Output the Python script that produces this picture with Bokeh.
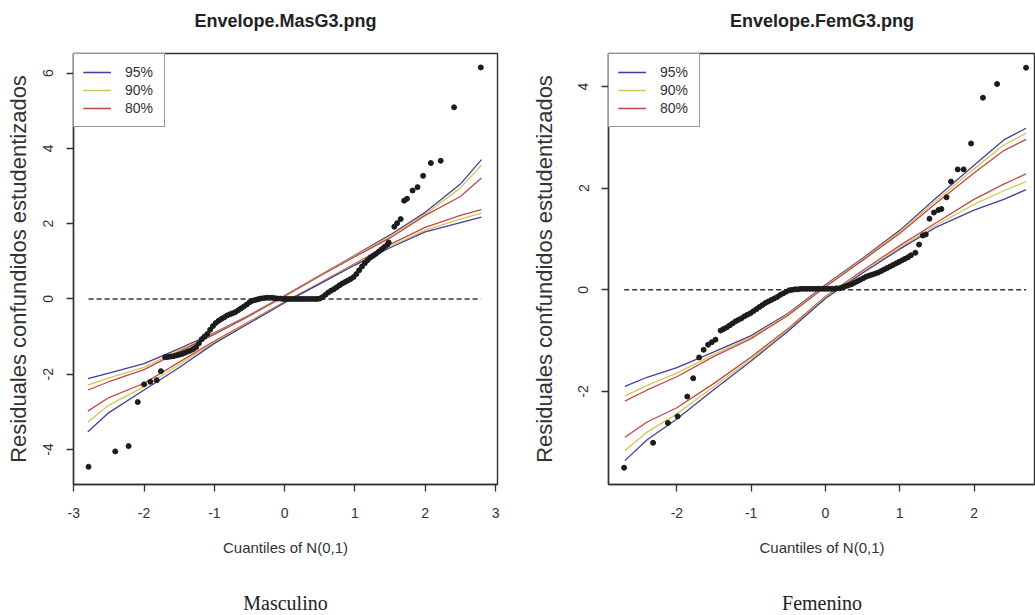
from bokeh.plotting import figure
from bokeh.layouts import row
from bokeh.models import (Range1d, FixedTicker, Legend, LegendItem, Title,
                          PrintfTickFormatter)
from bokeh.embed import file_html
from bokeh.resources import INLINE

# ---------------- data: Masculino ----------------
mas_px = [-2.79, -2.41, -2.22, -2.09, -2.00, -1.91, -1.82, -1.76,
          -1.70, -1.66, -1.62, -1.58, -1.54, -1.50, -1.46, -1.42, -1.38, -1.34, -1.30, -1.26,
          -1.22, -1.18, -1.14, -1.10, -1.06, -1.02, -0.98, -0.94, -0.90, -0.86, -0.82, -0.78,
          -0.74, -0.70, -0.66, -0.62, -0.58, -0.54, -0.50, -0.46, -0.42, -0.38, -0.34, -0.30,
          -0.26, -0.22, -0.18, -0.14, -0.10, -0.06, -0.02, 0.02, 0.06, 0.10, 0.14, 0.18, 0.22,
          0.26, 0.30, 0.34, 0.38, 0.42, 0.46, 0.50, 0.54, 0.58, 0.62, 0.66, 0.70, 0.74, 0.78,
          0.82, 0.86, 0.90, 0.94, 0.98, 1.02, 1.06, 1.10, 1.14, 1.18, 1.22, 1.26, 1.30, 1.34,
          1.38, 1.42, 1.46, 1.48,
          1.56, 1.60, 1.65, 1.70, 1.74, 1.82, 1.89, 1.97, 2.08, 2.22, 2.41, 2.79]
mas_py = [-4.46, -4.05, -3.91, -2.74, -2.27, -2.20, -2.16, -1.92,
          -1.55, -1.54, -1.53, -1.52, -1.50, -1.48, -1.46, -1.43, -1.40, -1.37, -1.33, -1.28,
          -1.18, -1.07, -1.00, -0.93, -0.82, -0.72, -0.64, -0.58, -0.53, -0.49, -0.44, -0.41,
          -0.38, -0.35, -0.30, -0.25, -0.20, -0.15, -0.09, -0.05, -0.03, -0.01, 0.01, 0.02,
          0.03, 0.03, 0.03, 0.02, 0.01, 0.01, 0.00, 0.00, 0.00, 0.00, 0.00, 0.00, 0.00,
          0.00, 0.00, 0.00, 0.00, 0.00, 0.00, 0.01, 0.05, 0.11, 0.17, 0.22, 0.26, 0.31, 0.36,
          0.41, 0.45, 0.49, 0.53, 0.58, 0.66, 0.76, 0.86, 0.95, 1.03, 1.10, 1.15, 1.20, 1.26,
          1.32, 1.38, 1.44, 1.50,
          1.92, 2.01, 2.12, 2.61, 2.66, 2.88, 2.97, 3.27, 3.61, 3.67, 5.09, 6.15]

mas_ex = [-2.8, -2.5, -2.0, -1.5, -1.0, -0.5, 0.0, 0.5, 1.0, 1.5, 2.0, 2.5, 2.8]
mas_up95 = [-2.12, -1.97, -1.72, -1.32, -0.90, -0.43, 0.09, 0.63, 1.16, 1.70, 2.30, 3.05, 3.70]
mas_up90 = [-2.29, -2.10, -1.82, -1.36, -0.92, -0.44, 0.08, 0.62, 1.14, 1.66, 2.25, 2.95, 3.55]
mas_up80 = [-2.42, -2.20, -1.88, -1.40, -0.94, -0.45, 0.07, 0.61, 1.12, 1.62, 2.22, 2.72, 3.21]
mas_lo80 = [-2.98, -2.62, -2.24, -1.68, -1.12, -0.60, -0.08, 0.42, 0.94, 1.45, 1.90, 2.22, 2.37]
mas_lo90 = [-3.27, -2.82, -2.33, -1.75, -1.15, -0.62, -0.09, 0.41, 0.92, 1.40, 1.83, 2.12, 2.28]
mas_lo95 = [-3.53, -3.02, -2.42, -1.82, -1.18, -0.64, -0.10, 0.40, 0.90, 1.36, 1.78, 2.03, 2.17]

# ---------------- data: Femenino ----------------
fem_px = [-2.71, -2.32, -2.12, -1.99, -1.86, -1.78, -1.70, -1.64, -1.58, -1.53, -1.48,
          -1.41, -1.37, -1.33, -1.29, -1.25, -1.21, -1.17, -1.13, -1.09, -1.05, -1.01, -0.97,
          -0.93, -0.89, -0.85, -0.81, -0.77, -0.73, -0.69, -0.65, -0.61, -0.57, -0.53, -0.49,
          -0.45, -0.41, -0.37, -0.33, -0.29, -0.25, -0.21, -0.17, -0.13, -0.09, -0.05, -0.01,
          0.03, 0.07, 0.11, 0.15, 0.19, 0.23, 0.27, 0.31, 0.35, 0.39, 0.43, 0.47, 0.51, 0.55,
          0.59, 0.63, 0.67, 0.71, 0.75, 0.79, 0.83, 0.87, 0.91, 0.95, 0.99, 1.03, 1.07, 1.11,
          1.15,
          1.21, 1.26, 1.31, 1.35, 1.40, 1.46, 1.52, 1.56, 1.63, 1.69, 1.78, 1.86, 1.96, 2.12,
          2.31, 2.70]
fem_py = [-3.50, -3.01, -2.62, -2.49, -2.10, -1.74, -1.33, -1.18, -1.08, -1.03, -0.98,
          -0.80, -0.77, -0.74, -0.70, -0.66, -0.62, -0.59, -0.56, -0.52, -0.49, -0.46, -0.42,
          -0.38, -0.34, -0.30, -0.26, -0.23, -0.20, -0.17, -0.14, -0.10, -0.07, -0.04, -0.01,
          0.00, 0.01, 0.01, 0.02, 0.02, 0.02, 0.02, 0.02, 0.02, 0.02, 0.02, 0.02,
          0.02, 0.02, 0.02, 0.03, 0.03, 0.05, 0.07, 0.09, 0.11, 0.14, 0.17, 0.20, 0.23, 0.26,
          0.28, 0.30, 0.32, 0.34, 0.37, 0.40, 0.43, 0.46, 0.49, 0.52, 0.55, 0.58, 0.61, 0.64,
          0.68,
          0.73, 0.89, 1.07, 1.09, 1.40, 1.52, 1.57, 1.59, 1.82, 2.13, 2.37, 2.37, 2.88, 3.78,
          4.05, 4.37]

fem_ex = [-2.7, -2.4, -2.0, -1.5, -1.0, -0.5, 0.0, 0.5, 1.0, 1.5, 2.0, 2.4, 2.7]
fem_up95 = [-1.90, -1.72, -1.53, -1.22, -0.90, -0.46, 0.10, 0.62, 1.17, 1.82, 2.45, 2.95, 3.18]
fem_up90 = [-2.09, -1.88, -1.64, -1.27, -0.93, -0.48, 0.08, 0.60, 1.14, 1.77, 2.38, 2.85, 3.08]
fem_up80 = [-2.19, -1.97, -1.71, -1.31, -0.96, -0.50, 0.06, 0.58, 1.11, 1.72, 2.30, 2.74, 2.96]
fem_lo80 = [-2.90, -2.60, -2.32, -1.84, -1.32, -0.76, -0.13, 0.38, 0.87, 1.33, 1.78, 2.08, 2.28]
fem_lo90 = [-3.16, -2.80, -2.44, -1.90, -1.36, -0.79, -0.15, 0.35, 0.83, 1.28, 1.68, 1.95, 2.13]
fem_lo95 = [-3.36, -2.95, -2.54, -1.96, -1.40, -0.81, -0.17, 0.33, 0.80, 1.24, 1.57, 1.78, 1.97]

legend_labels = ["95%", "90%", "80%"]
col_blue, col_yellow, col_red = "#453d9e", "#d4c656", "#c04a45"

x_label = "Cuantiles of N(0,1)"
y_label = "Residuales confundidos estudentizados"

SANS = "Liberation Sans"
FRAME_TOP, FRAME_BOTTOM, HEIGHT = 53, 484, 615


def spacer(gap):
    # blank title (zero-width character, white) used only to reserve vertical space
    return Title(text="\u200b", text_font_size="2px", standoff=gap, text_color="white")


def panel(title, subtitle, px, py, ex, envs, xr, yr, xticks, yticks, width,
          border_left, border_right, ylab_standoff):
    p = figure(width=width, height=HEIGHT, x_range=Range1d(*xr), y_range=Range1d(*yr),
               output_backend="svg", toolbar_location=None, title=None,
               min_border_left=border_left, min_border_right=border_right,
               min_border_top=FRAME_TOP, min_border_bottom=HEIGHT - FRAME_BOTTOM)
    p.xgrid.visible = False
    p.ygrid.visible = False
    p.outline_line_color = "#333333"
    p.outline_line_width = 1.4
    p.background_fill_color = "white"
    p.border_fill_color = "white"

    for ax, ticks in ((p.xaxis[0], xticks), (p.yaxis[0], yticks)):
        ax.ticker = FixedTicker(ticks=ticks)
        ax.formatter = PrintfTickFormatter(format="%d")
        ax.minor_tick_line_color = None
        ax.major_tick_in = 0
        ax.major_tick_out = 7
        ax.major_tick_line_color = "#333333"
        ax.major_tick_line_width = 1.3
        ax.axis_line_color = "#333333"
        ax.axis_line_width = 1.4
        ax.major_label_text_font = SANS
        ax.major_label_text_font_size = "14px"
        ax.major_label_text_color = "#333333"
        ax.axis_label_text_font = SANS
        ax.axis_label_text_font_style = "normal"
        ax.axis_label_text_color = "#333333"
    p.xaxis[0].axis_label = x_label
    p.xaxis[0].axis_label_text_font_size = "15px"
    p.xaxis[0].major_label_standoff = 16
    p.xaxis[0].axis_label_standoff = 18
    p.yaxis[0].axis_label = y_label
    p.yaxis[0].axis_label_text_font_size = "22px"
    p.yaxis[0].major_label_orientation = "vertical"
    p.yaxis[0].major_label_standoff = 13
    p.yaxis[0].axis_label_standoff = ylab_standoff

    # zero reference line spanning the data
    p.line([min(px), max(px)], [0, 0], line_color="#333333", line_width=1.5,
           line_dash="5 3")

    colors = [col_blue, col_yellow, col_red, col_red, col_yellow, col_blue]
    rends = []
    for ys, c in zip(envs, colors):
        rends.append(p.line(ex, ys, line_color=c, line_width=1.3))

    p.scatter(px, py, size=5, color="#1c1c1c", line_color="#1c1c1c")

    items = [LegendItem(label=legend_labels[0], renderers=[rends[0], rends[5]]),
             LegendItem(label=legend_labels[1], renderers=[rends[1], rends[4]]),
             LegendItem(label=legend_labels[2], renderers=[rends[2], rends[3]])]
    lg = Legend(items=items, location="top_left", margin=0, padding=9, spacing=0,
                label_height=18, glyph_height=18, glyph_width=28, label_standoff=14,
                label_width=30, label_text_font=SANS, label_text_font_size="14px",
                label_text_color="#333333", border_line_color="#333333",
                border_line_width=1.4, background_fill_alpha=1.0)
    p.add_layout(lg)

    # heading: spacer next to the frame, then the title above it
    p.add_layout(spacer(19), "above")
    p.add_layout(Title(text=title, align="center", text_font=SANS,
                       text_font_size="18px", text_font_style="bold",
                       text_color="#222222", standoff=0), "above")
    # caption: spacer under the axis, then the caption
    p.add_layout(spacer(27), "below")
    p.add_layout(Title(text=subtitle, align="center", text_font="Liberation Serif",
                       text_font_size="20px", text_font_style="normal",
                       text_color="#222222", standoff=0), "below")
    return p


p1 = panel("Envelope.MasG3.png", "Masculino", mas_px, mas_py, mas_ex,
           [mas_up95, mas_up90, mas_up80, mas_lo80, mas_lo90, mas_lo95],
           (-3.004, 3.028), (-4.93, 6.52), [-3, -2, -1, 0, 1, 2, 3],
           [-4, -2, 0, 2, 4, 6], 520, 73, 23, 10)
p2 = panel("Envelope.FemG3.png", "Femenino", fem_px, fem_py, fem_ex,
           [fem_up95, fem_up90, fem_up80, fem_lo80, fem_lo90, fem_lo95],
           (-2.92, 2.827), (-3.83, 4.65), [-2, -1, 0, 1, 2],
           [-2, 0, 2, 4], 515, 88, 0, 19)

layout = row(p1, p2)
open("out.html", "w").write(file_html(layout, INLINE))
